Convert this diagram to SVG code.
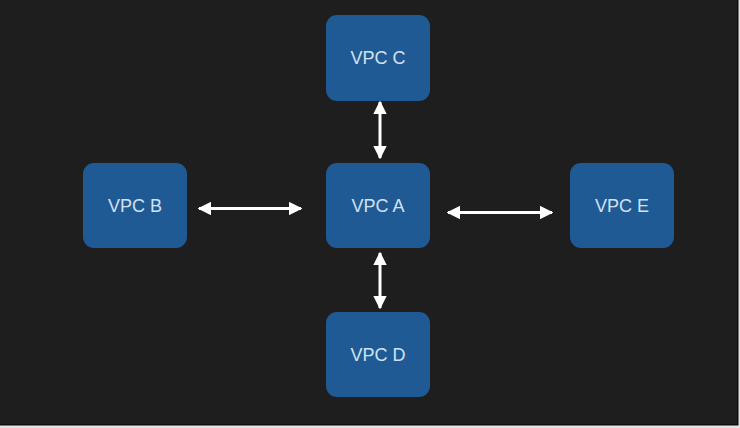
<svg xmlns="http://www.w3.org/2000/svg" width="740" height="428" viewBox="0 0 740 428">
<style>
.box{fill:#1f5a95;}
.lbl{fill:#d2e2f2;font-family:"Liberation Sans",Arial,sans-serif;font-size:18px;text-anchor:middle;dominant-baseline:central;}
.con{stroke:#ffffff;stroke-width:3;fill:none;marker-start:url(#ah);marker-end:url(#ah);}
</style>
<defs>
<marker id="ah" viewBox="0 0 10 10" refX="9" refY="5" markerWidth="4.6" markerHeight="4.6" orient="auto-start-reverse" markerUnits="strokeWidth">
<path d="M0,0 L10,5 L0,10 Z" fill="#ffffff"/>
</marker>
</defs>
<rect x="0" y="0" width="740" height="428" fill="#e4e4e4"/>
<rect x="0" y="0" width="738.5" height="425.5" fill="#0e0e0e"/>
<rect x="0" y="0" width="737" height="424" fill="#1e1e1e"/>
<g id="connectors">
<line class="con" x1="199" y1="208.5" x2="301" y2="208.5"/>
<line class="con" x1="448" y1="212.5" x2="552" y2="212.5"/>
<line class="con" x1="380" y1="102" x2="380" y2="158"/>
<line class="con" x1="380" y1="253" x2="380" y2="308"/>
</g>
<g id="vpc-c"><rect class="box" x="326" y="15" width="104" height="86" rx="11"/><text class="lbl" x="378" y="58">VPC C</text></g>
<g id="vpc-b"><rect class="box" x="83" y="163" width="104" height="85" rx="11"/><text class="lbl" x="135" y="206">VPC B</text></g>
<g id="vpc-a"><rect class="box" x="326" y="163" width="104" height="85" rx="11"/><text class="lbl" x="378" y="206">VPC A</text></g>
<g id="vpc-e"><rect class="box" x="570" y="163" width="104" height="85" rx="11"/><text class="lbl" x="622" y="206">VPC E</text></g>
<g id="vpc-d"><rect class="box" x="326" y="312" width="104" height="85" rx="11"/><text class="lbl" x="378" y="355">VPC D</text></g>
</svg>
